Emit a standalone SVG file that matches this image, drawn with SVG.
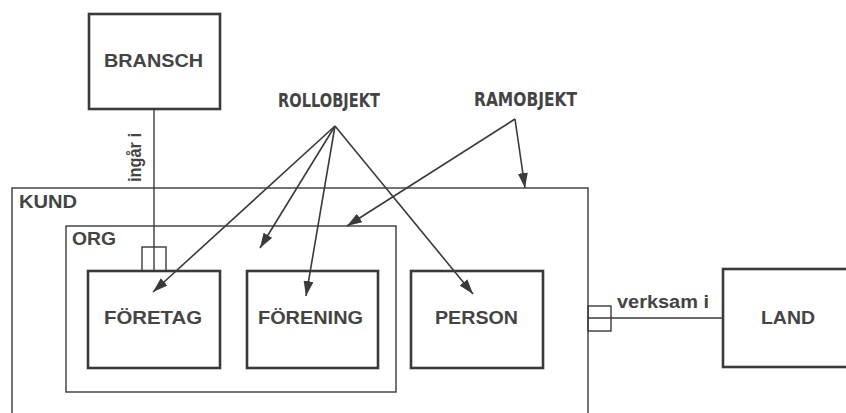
<svg xmlns="http://www.w3.org/2000/svg" width="846" height="413" viewBox="0 0 846 413">
<defs>
<marker id="ah" viewBox="0 0 15 10" refX="15" refY="5" markerWidth="15" markerHeight="10" markerUnits="userSpaceOnUse" orient="auto">
<path d="M0,0 L15,5 L0,10 Z" fill="#3a3a3a"/>
</marker>
<style>
.thin{fill:none;stroke:#3a3a3a;stroke-width:1.4}
.thick{fill:none;stroke:#3a3a3a;stroke-width:2.6}
.lbl{font-family:"Liberation Sans",Arial,sans-serif;font-weight:bold;fill:#444;font-size:18px}
.sm{font-family:"Liberation Sans",Arial,sans-serif;font-weight:bold;fill:#444;font-size:18px}
.cond{font-family:"DejaVu Sans Condensed","DejaVu Sans",sans-serif;font-weight:bold;fill:#444;font-size:19px;font-stretch:condensed}
.arr{fill:none;stroke:#3a3a3a;stroke-width:1.6;marker-end:url(#ah)}
</style>
</defs>
<rect width="846" height="413" fill="#fff"/>
<g id="kund">
<rect class="thin" x="12" y="188" width="576" height="240"/>
<text class="sm" x="19" y="208" textLength="58" lengthAdjust="spacingAndGlyphs">KUND</text>
</g>
<g id="org">
<rect class="thin" x="66" y="226" width="330" height="166"/>
<text class="sm" x="72" y="245" textLength="44" lengthAdjust="spacingAndGlyphs">ORG</text>
</g>
<g id="bransch">
<rect class="thick" x="89" y="14" width="131" height="95"/>
<text class="lbl" x="104" y="67" textLength="99" lengthAdjust="spacingAndGlyphs">BRANSCH</text>
</g>
<g id="foretag">
<rect class="thick" x="88" y="271" width="132" height="97"/>
<text class="lbl" x="104" y="324" textLength="98" lengthAdjust="spacingAndGlyphs">FÖRETAG</text>
</g>
<g id="forening">
<rect class="thick" x="247" y="271" width="131" height="97"/>
<text class="lbl" x="258" y="324" textLength="105" lengthAdjust="spacingAndGlyphs">FÖRENING</text>
</g>
<g id="person">
<rect class="thick" x="411" y="271" width="132" height="97"/>
<text class="lbl" x="435" y="324" textLength="83" lengthAdjust="spacingAndGlyphs">PERSON</text>
</g>
<g id="land">
<rect class="thick" x="723" y="269" width="140" height="98"/>
<text class="lbl" x="761" y="324" textLength="54" lengthAdjust="spacingAndGlyphs">LAND</text>
</g>
<g id="rollobjekt">
<text class="cond" x="278" y="107" textLength="102" lengthAdjust="spacingAndGlyphs">ROLLOBJEKT</text>
</g>
<g id="ramobjekt">
<text class="cond" x="474" y="106" textLength="103" lengthAdjust="spacingAndGlyphs">RAMOBJEKT</text>
</g>
<g id="connectors">
<line class="thin" x1="154" y1="109" x2="154" y2="271"/>
<rect class="thin" x="142" y="247" width="24" height="24"/>
<text class="sm" transform="translate(141,182) rotate(-90)" textLength="49" lengthAdjust="spacingAndGlyphs">ingår i</text>
<rect class="thin" x="588" y="306" width="23" height="25"/>
<line class="thin" x1="588" y1="318" x2="723" y2="318"/>
<text class="sm" x="617" y="308" textLength="92" lengthAdjust="spacingAndGlyphs">verksam i</text>
<line class="arr" x1="335" y1="126" x2="153" y2="292"/>
<line class="arr" x1="335" y1="126" x2="260" y2="248"/>
<line class="arr" x1="335" y1="126" x2="306" y2="296"/>
<line class="arr" x1="335" y1="126" x2="473" y2="294"/>
<line class="arr" x1="515" y1="119" x2="347" y2="226"/>
<line class="arr" x1="515" y1="119" x2="525" y2="188"/>
</g>
</svg>
